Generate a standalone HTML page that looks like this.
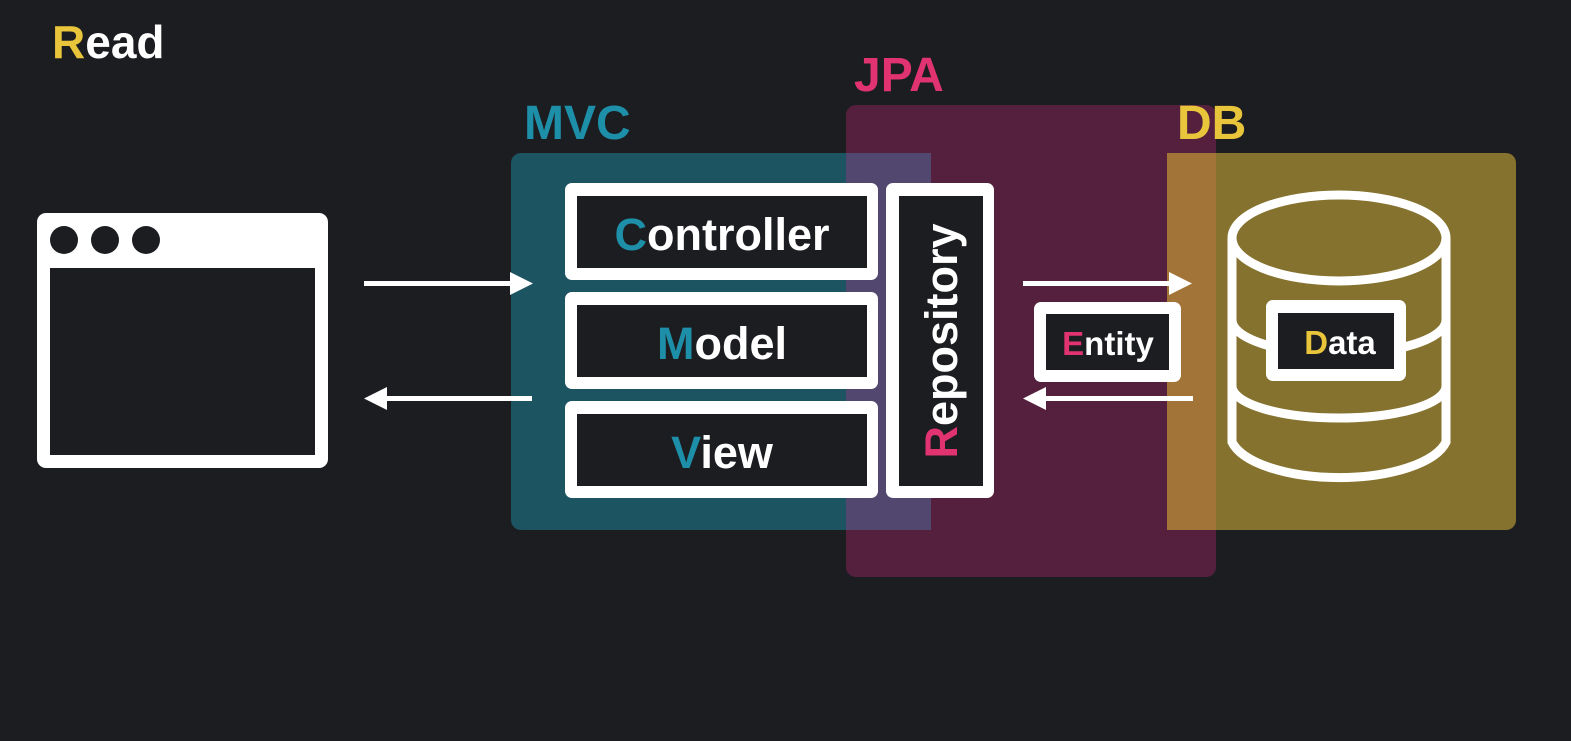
<!DOCTYPE html>
<html><head><meta charset="utf-8"><style>
html,body{margin:0;padding:0;background:#1c1d21;}
svg{display:block}
text{font-family:"Liberation Sans","DejaVu Sans",sans-serif;font-weight:bold;}
</style></head><body>
<svg width="1571" height="741" viewBox="0 0 1571 741" xmlns="http://www.w3.org/2000/svg">
<rect width="1571" height="741" fill="#1c1d21"/>
<text x="52" y="58" font-size="46" fill="#fff"><tspan fill="#e8c53a">R</tspan>ead</text>

<!-- browser -->
<rect x="37" y="213" width="291" height="255" rx="9" fill="#fff"/>
<rect x="50" y="268" width="265" height="187" fill="#1c1d21"/>
<circle cx="64" cy="240" r="14" fill="#1c1d21"/>
<circle cx="105" cy="240" r="14" fill="#1c1d21"/>
<circle cx="146" cy="240" r="14" fill="#1c1d21"/>

<!-- group boxes -->
<rect x="846" y="105" width="370" height="472" rx="10" fill="#55203e"/>
<rect x="511" y="153" width="420" height="377" rx="10" fill="#1d5461"/>
<rect x="846" y="153" width="85" height="377" fill="#52476e"/>
<rect x="1167" y="153" width="349" height="377" rx="10" fill="#85722e"/>
<rect x="1167" y="153" width="49" height="377" fill="#a37438"/>

<text x="524" y="139" font-size="48" fill="#1e8fa8">MVC</text>
<text x="854" y="91" font-size="48" fill="#e0336f">JPA</text>
<text x="1177" y="139" font-size="48" fill="#e8c53a">DB</text>

<!-- arrows -->
<g fill="#fff">
<rect x="364" y="281" width="150" height="5"/>
<polygon points="510,272 533,283.5 510,295"/>
<rect x="384" y="396" width="148" height="5"/>
<polygon points="387,387 364,398.5 387,410"/>
<rect x="1023" y="281" width="150" height="5"/>
<polygon points="1169,272 1192,283.5 1169,295"/>
<rect x="1043" y="396" width="150" height="5"/>
<polygon points="1046,387 1023,398.5 1046,410"/>
</g>

<!-- MVC boxes -->
<g fill="#fff">
<rect x="565" y="183" width="313" height="97" rx="7"/>
<rect x="565" y="292" width="313" height="97" rx="7"/>
<rect x="565" y="401" width="313" height="97" rx="7"/>
<rect x="886" y="183" width="108" height="315" rx="7"/>
<rect x="1034" y="302" width="147" height="80" rx="7"/>
</g>
<g fill="#1c1d21">
<rect x="577" y="196" width="290" height="72"/>
<rect x="577" y="305" width="290" height="72"/>
<rect x="577" y="414" width="290" height="72"/>
<rect x="899" y="196" width="84" height="290"/>
<rect x="1046" y="314" width="123" height="56"/>
</g>
<text x="722" y="250" font-size="45" fill="#fff" text-anchor="middle"><tspan fill="#1e8fa8">C</tspan>ontroller</text>
<text x="722" y="359" font-size="45" fill="#fff" text-anchor="middle"><tspan fill="#1e8fa8">M</tspan>odel</text>
<text x="722" y="468" font-size="45" fill="#fff" text-anchor="middle"><tspan fill="#1e8fa8">V</tspan>iew</text>
<text transform="translate(957,341) rotate(-90)" font-size="45" fill="#fff" text-anchor="middle"><tspan fill="#e0336f">R</tspan>epository</text>
<text x="1108" y="355" font-size="33" fill="#fff" text-anchor="middle"><tspan fill="#e0336f">E</tspan>ntity</text>

<!-- cylinder -->
<g fill="none" stroke="#fff" stroke-width="9">
<path d="M1232,238 L1232,442 A109,44 0 0 0 1446,442 L1446,238"/>
<ellipse cx="1339" cy="238" rx="107" ry="43"/>
<path d="M1232,320 A107,34 0 0 0 1446,320"/>
<path d="M1232,386 A107,32 0 0 0 1446,386"/>
</g>
<rect x="1266" y="300" width="140" height="81" rx="7" fill="#fff"/>
<rect x="1278" y="313" width="116" height="56" fill="#1c1d21"/>
<text x="1340" y="354" font-size="33" fill="#fff" text-anchor="middle"><tspan fill="#e8c53a">D</tspan>ata</text>
</svg>
</body></html>
